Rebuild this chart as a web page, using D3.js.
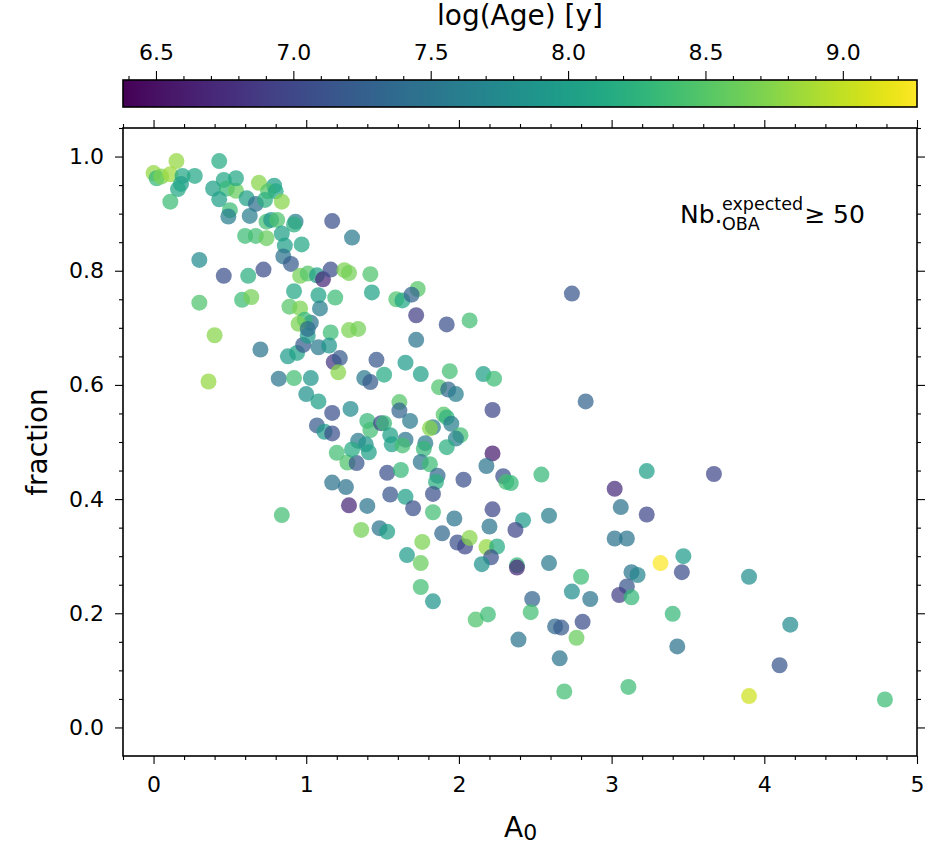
<!DOCTYPE html>
<html lang="en">
  <head>
    <meta charset="UTF-8" />
    <title>fraction vs A0</title>
    <script src="https://cdn.jsdelivr.net/npm/d3@7"></script>
    <style>
      body { margin: 0; background: #fff; }
      text { font-family: "DejaVu Sans", sans-serif; fill: #000; }
    </style>
  </head>
  <body>
    <svg id="container" width="944" height="859"></svg>
    <script>
      // values: extinction, fraction, log(age)
      const a0 = [
        0.15, 0.00, 0.02, 0.05, 0.11, 0.19, 0.18, 0.16, 0.27, 0.11, 0.43, 0.39, 0.46, 0.48, 0.54, 0.54,
        0.43, 0.50, 0.49, 0.69, 0.79, 0.75, 0.80, 0.61, 0.67, 0.73, 0.84, 0.63, 0.74, 0.77, 0.81, 0.93,
        0.92, 0.84, 0.86, 0.97, 0.60, 0.67, 0.74, 0.85, 0.90, 1.17, 1.30, 0.30, 0.46, 0.62, 0.72, 0.96,
        1.01, 1.07, 1.11, 1.16, 1.25, 1.28, 1.42, 1.43, 1.59, 1.63, 0.92, 1.08, 1.19, 1.09, 0.89, 0.96,
        1.03, 0.99, 0.95, 0.30, 0.58, 0.64, 1.16, 1.28, 1.34, 0.40, 0.70, 0.88, 0.94, 0.98, 1.01, 1.01,
        1.08, 1.15, 1.18, 1.22, 1.21, 1.46, 0.36, 0.82, 0.92, 1.03, 1.38, 1.42, 1.51, 1.00, 1.08, 1.29,
        1.17, 1.07, 1.12, 1.17, 1.40, 1.42, 1.49, 1.51, 1.55, 1.61, 1.61, 1.34, 1.39, 1.41, 1.20, 1.27,
        1.33, 1.53, 1.62, 1.17, 1.26, 1.55, 1.28, 1.40, 0.84, 1.36, 1.48, 1.53, 1.73, 1.69, 1.72, 1.92,
        2.07, 1.72, 2.74, 2.83, 1.65, 1.75, 1.94, 2.16, 2.23, 1.87, 1.93, 1.98, 1.68, 1.90, 1.92, 1.95,
        1.83, 1.81, 2.22, 2.01, 1.98, 1.56, 1.65, 1.63, 1.78, 1.77, 1.92, 1.30, 2.22, 2.18, 2.29, 2.31,
        2.34, 2.54, 3.23, 3.02, 3.06, 3.23, 3.02, 3.10, 3.32, 3.13, 3.17, 3.10, 3.05, 3.13, 1.75, 1.81,
        1.86, 1.85, 2.03, 1.65, 1.83, 1.70, 1.83, 1.97, 2.22, 2.42, 2.59, 2.20, 2.37, 1.89, 1.99, 2.04,
        2.07, 2.18, 2.25, 2.21, 2.15, 2.38, 2.38, 2.59, 1.76, 1.66, 1.75, 1.75, 1.83, 2.80, 2.74, 2.86,
        2.48, 2.47, 2.11, 2.19, 2.63, 2.67, 2.81, 2.77, 2.39, 2.66, 2.69, 3.11, 3.67, 3.47, 3.46, 3.90,
        3.40, 4.17, 3.43, 4.10, 3.90, 4.79
      ];
      const fraction = [
        0.992, 0.971, 0.962, 0.965, 0.969, 0.966, 0.952, 0.943, 0.966, 0.921, 0.992, 0.944, 0.959, 0.944, 0.940, 0.962,
        0.925, 0.906, 0.895, 0.954, 0.949, 0.939, 0.939, 0.927, 0.917, 0.924, 0.921, 0.896, 0.886, 0.889, 0.889, 0.886,
        0.881, 0.865, 0.844, 0.846, 0.861, 0.861, 0.857, 0.825, 0.812, 0.887, 0.858, 0.819, 0.791, 0.791, 0.802, 0.791,
        0.795, 0.792, 0.785, 0.802, 0.801, 0.796, 0.794, 0.762, 0.750, 0.748, 0.764, 0.757, 0.753, 0.734, 0.737, 0.734,
        0.709, 0.714, 0.707, 0.744, 0.749, 0.754, 0.692, 0.696, 0.698, 0.687, 0.662, 0.650, 0.656, 0.670, 0.686, 0.698,
        0.666, 0.669, 0.640, 0.647, 0.622, 0.644, 0.606, 0.611, 0.612, 0.612, 0.612, 0.605, 0.618, 0.584, 0.571, 0.558,
        0.551, 0.529, 0.518, 0.515, 0.537, 0.521, 0.533, 0.533, 0.512, 0.570, 0.555, 0.502, 0.496, 0.482, 0.481, 0.464,
        0.463, 0.446, 0.451, 0.429, 0.421, 0.408, 0.389, 0.388, 0.372, 0.346, 0.349, 0.343, 0.768, 0.758, 0.722, 0.706,
        0.713, 0.679, 0.760, 0.571, 0.639, 0.619, 0.624, 0.619, 0.611, 0.596, 0.592, 0.584, 0.537, 0.548, 0.543, 0.532,
        0.526, 0.524, 0.556, 0.512, 0.506, 0.496, 0.504, 0.494, 0.498, 0.488, 0.491, 0.487, 0.480, 0.458, 0.440, 0.430,
        0.428, 0.443, 0.449, 0.418, 0.386, 0.373, 0.331, 0.331, 0.288, 0.272, 0.267, 0.247, 0.232, 0.228, 0.465, 0.461,
        0.441, 0.430, 0.434, 0.404, 0.409, 0.384, 0.377, 0.366, 0.382, 0.363, 0.371, 0.352, 0.346, 0.340, 0.324, 0.317,
        0.332, 0.316, 0.317, 0.298, 0.286, 0.284, 0.280, 0.288, 0.325, 0.302, 0.288, 0.246, 0.221, 0.264, 0.238, 0.225,
        0.225, 0.202, 0.189, 0.198, 0.177, 0.175, 0.185, 0.157, 0.154, 0.121, 0.063, 0.071, 0.444, 0.300, 0.272, 0.264,
        0.199, 0.180, 0.142, 0.109, 0.055, 0.049
      ];
      const logAge = [
        8.8, 8.8, 8.3, 8.7, 8.85, 8.1, 8.0, 8.1, 8.1, 8.35, 8.15, 8.0, 8.1, 8.3, 8.6, 8.1,
        8.0, 8.35, 7.6, 8.75, 8.0, 8.5, 8.1, 8.0, 7.4, 8.2, 8.75, 7.6, 8.4, 7.9, 8.45, 7.6,
        8.2, 8.0, 8.0, 8.1, 8.35, 8.4, 8.6, 7.45, 7.2, 7.1, 7.55, 7.75, 7.1, 8.2, 7.05, 8.65,
        8.5, 8.0, 6.7, 7.05, 8.7, 8.65, 8.45, 8.05, 8.45, 8.1, 8.1, 8.05, 8.35, 7.6, 8.5, 8.7,
        7.45, 8.3, 8.7, 8.45, 8.35, 8.65, 8.35, 8.7, 8.65, 8.75, 7.5, 7.95, 8.05, 7.2, 7.95, 7.4,
        7.55, 7.9, 6.85, 7.2, 8.75, 7.15, 8.8, 7.5, 8.4, 7.9, 7.55, 7.2, 8.15, 7.85, 8.0, 7.75,
        7.1, 7.2, 7.95, 7.1, 8.3, 8.4, 7.0, 8.3, 8.0, 8.5, 7.3, 7.55, 7.9, 8.0, 8.4, 8.45,
        7.15, 7.1, 8.3, 7.45, 7.45, 7.15, 6.7, 7.5, 8.4, 8.65, 7.5, 8.0, 8.5, 7.3, 6.9, 7.1,
        8.4, 7.5, 7.15, 7.3, 7.95, 8.0, 8.4, 8.0, 8.35, 8.45, 7.35, 7.6, 7.55, 8.5, 8.25, 7.6,
        7.55, 8.75, 7.0, 8.4, 7.6, 8.0, 7.5, 8.4, 7.55, 8.3, 8.2, 8.15, 6.6, 7.5, 7.1, 8.4,
        8.3, 8.3, 8.0, 6.75, 7.45, 7.0, 7.45, 7.5, 9.25, 7.5, 7.7, 7.15, 6.9, 8.3, 7.5, 8.35,
        7.35, 8.2, 7.1, 8.0, 7.1, 7.1, 8.4, 7.5, 7.0, 7.95, 7.6, 7.5, 7.0, 7.35, 7.1, 7.0,
        8.75, 8.8, 8.15, 7.1, 7.85, 8.3, 6.7, 7.55, 8.7, 7.95, 8.6, 8.4, 7.9, 8.35, 7.8, 7.5,
        7.3, 8.4, 8.45, 8.35, 7.35, 7.2, 7.05, 8.6, 7.5, 7.5, 8.4, 8.35, 7.0, 7.95, 7.05, 7.8,
        8.3, 7.75, 7.45, 7.15, 9.05, 8.35
      ];

      const xTicks = [0, 1, 2, 3, 4, 5];
      const yTicks = [0, 0.2, 0.4, 0.6, 0.8, 1.0];
      const cbTicks = [6.5, 7.0, 7.5, 8.0, 8.5, 9.0];
      const ageRange = [6.38, 9.27];

      let svg = d3.select("#container");
      let pL = 123, pR = 917, pT = 128, pB = 756;
      let cbTop = 80, cbBottom = 107;

      let x = d3.scaleLinear().domain([-0.2, 5]).range([pL, pR]);
      let y = d3.scaleLinear().domain([-0.05, 1.05]).range([pB, pT]);
      let cbX = d3.scaleLinear().domain(ageRange).range([pL, pR]);
      let color = d3.scaleSequential(d3.interpolateViridis).domain(ageRange);

      // minor tick positions
      let xMinor = d3.range(-0.2, 5.001, 0.2).filter((v) => Math.abs(v - Math.round(v)) > 1e-6);
      let yMinor = d3.range(0, 1.051, 0.05).filter((v) => Math.abs(v * 5 - Math.round(v * 5)) > 1e-6);
      let cbMinor = d3.range(6.4, 9.27, 0.1).filter((v) => Math.abs(v * 2 - Math.round(v * 2)) > 1e-6);

      function styleAxis(g) {
        g.select(".domain").remove();
        g.selectAll("line").attr("stroke", "#000").attr("stroke-width", 1.1);
        g.selectAll("text").style("font-size", "22px").attr("fill", "#000");
        return g;
      }

      // points
      let pts = a0.map((d, i) => ({ a: d, f: fraction[i], age: logAge[i] }));
      svg.append("g")
        .selectAll("circle")
        .data(pts)
        .enter()
        .append("circle")
        .attr("cx", (d) => x(d.a))
        .attr("cy", (d) => y(d.f))
        .attr("r", 8)
        .attr("fill", (d) => color(d.age))
        .attr("fill-opacity", 0.72);

      // main axes, ticks pointing outward on all sides
      svg.append("g").attr("transform", `translate(0,${pB})`)
        .call(d3.axisBottom(x).tickValues(xTicks).tickSize(8).tickPadding(12).tickFormat(d3.format("d")))
        .call(styleAxis);
      svg.append("g").attr("transform", `translate(0,${pB})`)
        .call(d3.axisBottom(x).tickValues(xMinor).tickSize(4).tickFormat(""))
        .call(styleAxis);
      svg.append("g").attr("transform", `translate(0,${pT})`)
        .call(d3.axisTop(x).tickValues(xTicks).tickSize(8).tickFormat(""))
        .call(styleAxis);
      svg.append("g").attr("transform", `translate(0,${pT})`)
        .call(d3.axisTop(x).tickValues(xMinor).tickSize(4).tickFormat(""))
        .call(styleAxis);
      svg.append("g").attr("transform", `translate(${pL},0)`)
        .call(d3.axisLeft(y).tickValues(yTicks).tickSize(8).tickPadding(11).tickFormat(d3.format(".1f")))
        .call(styleAxis);
      svg.append("g").attr("transform", `translate(${pL},0)`)
        .call(d3.axisLeft(y).tickValues(yMinor).tickSize(4).tickFormat(""))
        .call(styleAxis);
      svg.append("g").attr("transform", `translate(${pR},0)`)
        .call(d3.axisRight(y).tickValues(yTicks).tickSize(8).tickFormat(""))
        .call(styleAxis);
      svg.append("g").attr("transform", `translate(${pR},0)`)
        .call(d3.axisRight(y).tickValues(yMinor).tickSize(4).tickFormat(""))
        .call(styleAxis);

      svg.append("rect")
        .attr("x", pL).attr("y", pT)
        .attr("width", pR - pL).attr("height", pB - pT)
        .attr("fill", "none").attr("stroke", "#000").attr("stroke-width", 1.6);

      // axis labels
      let xl = svg.append("text").attr("x", 504).attr("y", 837).style("font-size", "28px");
      xl.append("tspan").text("A");
      xl.append("tspan").attr("dy", 3).style("font-size", "22px").text("0");

      svg.append("text")
        .attr("transform", `translate(47,${(pT + pB) / 2}) rotate(-90)`)
        .attr("text-anchor", "middle")
        .style("font-size", "28px")
        .text("fraction");

      // annotation
      let ann = svg.append("g");
      ann.append("text").attr("x", 680).attr("y", 223).style("font-size", "25px").text("Nb.");
      ann.append("text").attr("x", 722).attr("y", 210).style("font-size", "17.5px").text("expected");
      ann.append("text").attr("x", 722).attr("y", 229.5).style("font-size", "17.5px").text("OBA");
      ann.append("text").attr("x", 815).attr("y", 223).attr("text-anchor", "middle").style("font-size", "25px").text("≥");
      ann.append("text").attr("x", 833).attr("y", 223).style("font-size", "25px").text("50");

      // colorbar
      let grad = svg.append("defs").append("linearGradient").attr("id", "viridis");
      d3.range(0, 1.0001, 0.02).forEach((t) => {
        grad.append("stop").attr("offset", t).attr("stop-color", d3.interpolateViridis(t));
      });
      svg.append("rect")
        .attr("x", pL).attr("y", cbTop)
        .attr("width", pR - pL).attr("height", cbBottom - cbTop)
        .attr("fill", "url(#viridis)")
        .attr("stroke", "#000").attr("stroke-width", 1.6);

      svg.append("g").attr("transform", `translate(0,${cbTop})`)
        .call(d3.axisTop(cbX).tickValues(cbTicks).tickSize(9).tickPadding(11).tickFormat(d3.format(".1f")))
        .call(styleAxis);
      svg.append("g").attr("transform", `translate(0,${cbTop})`)
        .call(d3.axisTop(cbX).tickValues(cbMinor).tickSize(4).tickFormat(""))
        .call(styleAxis);

      svg.append("text")
        .attr("x", (pL + pR) / 2).attr("y", 25)
        .attr("text-anchor", "middle")
        .style("font-size", "28px")
        .text("log(Age) [y]");
    </script>
  </body>
</html>
